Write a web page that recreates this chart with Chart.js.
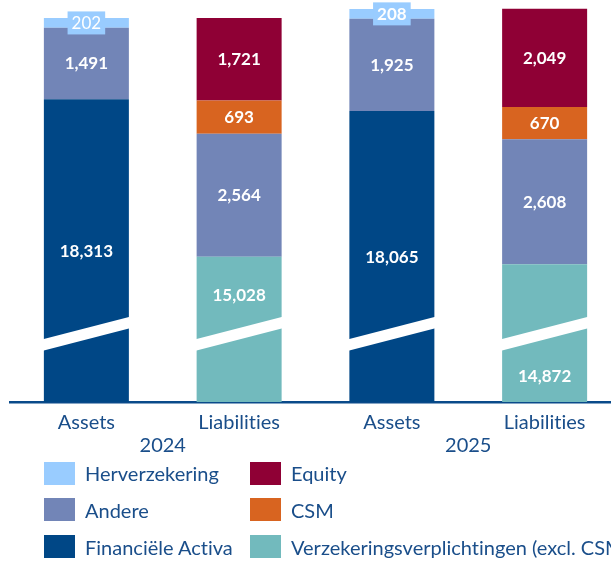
<!DOCTYPE html>
<html><head><meta charset="utf-8">
<script src="https://cdn.jsdelivr.net/npm/chart.js@4.4.1/dist/chart.umd.min.js"></script>
<style>
html,body{margin:0;padding:0;background:#fff;width:611px;height:561px;overflow:hidden;}
#wrap{position:absolute;left:0;top:0;width:621px;height:470px;}
#legend{position:absolute;left:0;top:0;width:800px;height:561px;font-family:Lato,sans-serif;font-size:20px;color:#1A4E8A;font-variant-ligatures:none;}
.item{position:absolute;display:flex;align-items:center;white-space:nowrap;height:23px;}
.box{width:31px;height:23px;margin-right:10px;flex:none;}
</style></head><body>
<div id="wrap"><canvas id="c"></canvas></div>
<div id="legend"></div>
<script>
// ---- data ----
const categories = ['Assets', 'Liabilities', 'Assets', 'Liabilities'];
const years = ['2024', '2025'];
const financieleActiva = [18313, null, 18065, null];
const verzekeringsverplichtingen = [null, 15028, null, 14872];
const andere = [1491, 2564, 1925, 2608];
const herverzekering = [202, null, 208, null];
const csm = [null, 693, null, 670];
const equity = [null, 1721, null, 2049];
const seriesNames = ['Financiële Activa', 'Verzekeringsverplichtingen (excl. CSM)', 'Andere', 'Herverzekering', 'CSM', 'Equity'];
const legendColumns = [
  ['Herverzekering', 'Andere', 'Financiële Activa'],
  ['Equity', 'CSM', 'Verzekeringsverplichtingen (excl. CSM)']
];

// ---- style ----
const colors = {
  'Financiële Activa': '#004786',
  'Verzekeringsverplichtingen (excl. CSM)': '#72BABD',
  'Andere': '#7285B7',
  'Herverzekering': '#99CCFF',
  'CSM': '#D86420',
  'Equity': '#8F0035'
};
const TEXT = '#1A4E8A';
const AXIS_MIN = 11995, AXIS_MAX = 20300, BREAK_VALUE = 13420;
const BAND_H = 11.5, BAND_SLOPE = 0.259;

const seriesData = [financieleActiva, verzekeringsverplichtingen, andere, herverzekering, csm, equity];
const datasets = seriesNames.map((name, i) => {
  const d = {
    label: name,
    data: seriesData[i],
    backgroundColor: colors[name],
    borderWidth: 0,
    stack: 's'
  };
  if (i === 0) { d.broken = true; }
  if (i === 1) { d.broken = true; d.labelPlacement = ['', 'above', '', 'below']; }
  if (i === 3) { d.boxedLabel = true; d.labelWeights = ['normal', '', 'bold', '']; }
  return d;
});

const noLigatures = {
  id: 'noLigatures',
  beforeDraw(chart) { try { chart.ctx.letterSpacing = '0.01px'; } catch (e) {} }
};

const overlay = {
  id: 'overlay',
  afterDatasetsDraw(chart) {
    const ctx = chart.ctx, ys = chart.scales.y, area = chart.chartArea;
    const cy = ys.getPixelForValue(BREAK_VALUE);
    // break bands
    chart.data.datasets.forEach((ds, di) => {
      if (!ds.broken) return;
      chart.getDatasetMeta(di).data.forEach((bar, i) => {
        if (ds.data[i] == null) return;
        const xc = bar.x, w = bar.width, l = xc - w / 2 - 1, r = xc + w / 2 + 1;
        ctx.save();
        ctx.fillStyle = '#ffffff';
        ctx.beginPath();
        ctx.moveTo(l, cy - BAND_H / 2 + BAND_SLOPE * (xc - l));
        ctx.lineTo(r, cy - BAND_H / 2 - BAND_SLOPE * (r - xc));
        ctx.lineTo(r, cy + BAND_H / 2 - BAND_SLOPE * (r - xc));
        ctx.lineTo(l, cy + BAND_H / 2 + BAND_SLOPE * (xc - l));
        ctx.closePath();
        ctx.fill();
        ctx.restore();
      });
    });
    // value labels
    chart.data.datasets.forEach((ds, di) => {
      chart.getDatasetMeta(di).data.forEach((bar, i) => {
        const v = ds.data[i];
        if (v == null) return;
        let top = Math.max(Math.min(bar.y, bar.base), area.top);
        let bot = Math.min(Math.max(bar.y, bar.base), area.bottom);
        let yc = (top + bot) / 2;
        const place = ds.labelPlacement ? ds.labelPlacement[i] : '';
        if (place === 'above') yc = (top + cy) / 2;
        if (place === 'below') yc = (cy + BAND_H / 2 + BAND_SLOPE * bar.width / 2 + bot) / 2;
        const txt = v.toLocaleString('en-US');
        const weight = ds.labelWeights ? (ds.labelWeights[i] || 'bold') : 'bold';
        ctx.save();
        ctx.font = weight + ' 17px Lato, sans-serif';
        ctx.textAlign = 'center';
        ctx.textBaseline = 'middle';
        if (ds.boxedLabel) {
          const tw = ctx.measureText(txt).width;
          ctx.fillStyle = ds.backgroundColor;
          ctx.fillRect(bar.x - tw / 2 - 4, yc - 11.5, tw + 8, 23);
        }
        ctx.fillStyle = '#ffffff';
        ctx.fillText(txt, bar.x, yc + 0.5);
        ctx.restore();
      });
    });
  }
};

function build() {
  new Chart(document.getElementById('c'), {
    type: 'bar',
    data: { labels: categories, datasets },
    options: {
      responsive: true,
      maintainAspectRatio: false,
      animation: false,
      layout: { padding: { left: 10, right: 0, top: 4, bottom: 26 } },
      plugins: { legend: { display: false }, tooltip: { enabled: false } },
      datasets: { bar: { categoryPercentage: 1, barPercentage: 0.5565 } },
      scales: {
        y: { display: false, stacked: true, min: AXIS_MIN, max: AXIS_MAX },
        x: {
          stacked: true, offset: true, weight: 0,
          grid: { display: false, drawTicks: false },
          border: { display: true, color: '#0A4A8A', width: 2.5 },
          ticks: { color: TEXT, padding: 9, font: { family: 'Lato', size: 20, lineHeight: 1.2 } }
        },
        x2: {
          type: 'category', position: 'bottom', labels: years, offset: true, weight: 1,
          grid: { display: false, drawTicks: false },
          border: { display: false },
          ticks: { color: TEXT, padding: -2.5, mirror: true, font: { family: 'Lato', size: 20, lineHeight: 0.05 } }
        }
      }
    },
    plugins: [noLigatures, overlay]
  });

  // HTML legend
  const lg = document.getElementById('legend');
  const colX = [44, 250];
  legendColumns.forEach((col, c) => {
    col.forEach((name, r) => {
      const it = document.createElement('div');
      it.className = 'item';
      it.style.left = colX[c] + 'px';
      it.style.top = (461.7 + r * 36.65) + 'px';
      const b = document.createElement('span');
      b.className = 'box';
      b.style.background = colors[name];
      const t = document.createElement('span');
      t.textContent = name;
      it.appendChild(b); it.appendChild(t);
      lg.appendChild(it);
    });
  });
}

Promise.all([
  document.fonts.load('20px Lato'),
  document.fonts.load('bold 17px Lato')
]).then(build, build);
</script>
</body></html>
